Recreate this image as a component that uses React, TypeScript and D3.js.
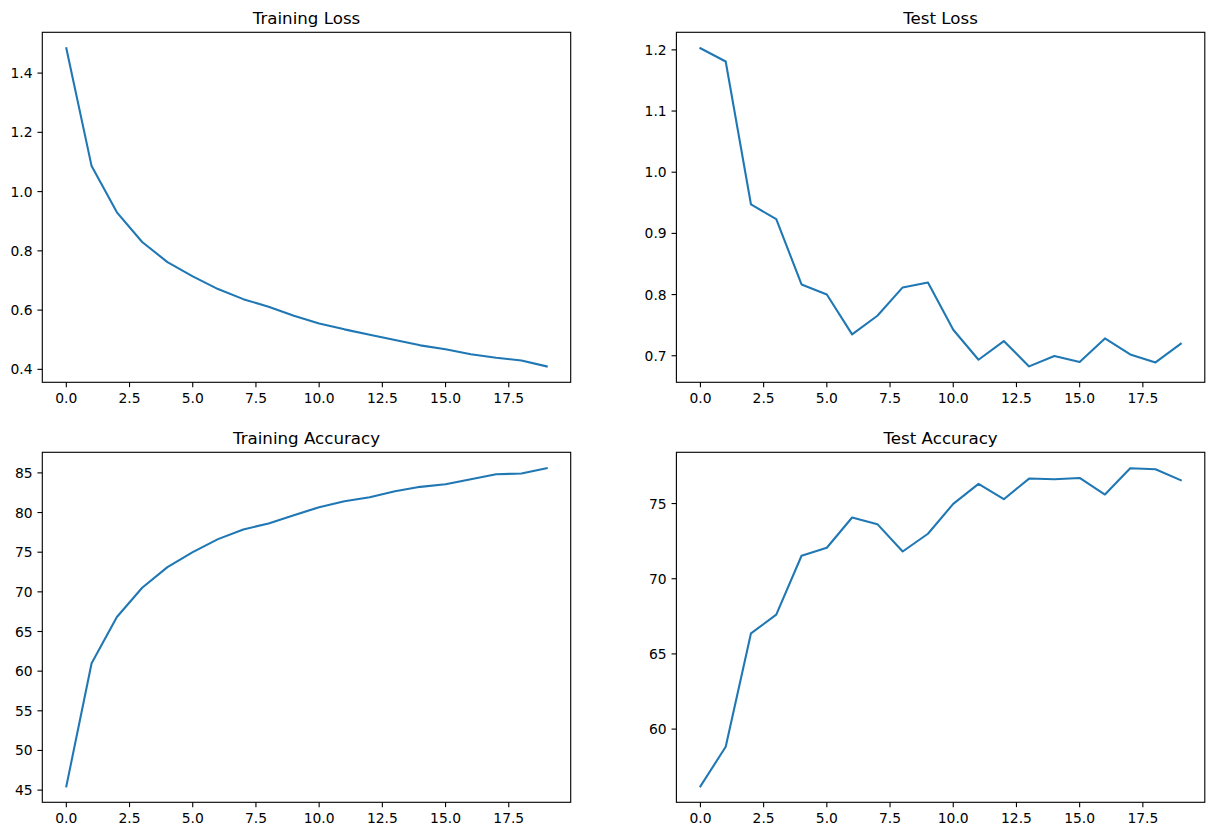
import React from "react";
import * as d3 from "d3";

const epochs = d3.range(20);

const trainLoss = [1.484, 1.086, 0.93, 0.83, 0.762, 0.714, 0.671, 0.637, 0.611, 0.581, 0.555, 0.535, 0.517, 0.499, 0.481, 0.468, 0.451, 0.439, 0.43, 0.41];
const testLoss = [1.2027, 1.181, 0.9473, 0.9233, 0.8166, 0.8002, 0.7349, 0.7654, 0.8117, 0.8198, 0.7425, 0.6935, 0.724, 0.6826, 0.6995, 0.6897, 0.7283, 0.7022, 0.6891, 0.7196];
const trainAcc = [45.47, 61.0, 66.83, 70.52, 73.12, 75.01, 76.65, 77.87, 78.62, 79.67, 80.68, 81.43, 81.94, 82.69, 83.24, 83.57, 84.2, 84.83, 84.92, 85.59];
const testAcc = [56.19, 58.83, 66.37, 67.61, 71.53, 72.06, 74.07, 73.63, 71.81, 72.99, 74.98, 76.31, 75.29, 76.66, 76.62, 76.7, 75.6, 77.35, 77.28, 76.55];

const xTicks = [0, 2.5, 5, 7.5, 10, 12.5, 15, 17.5];
const yTicksTrainLoss = [0.4, 0.6, 0.8, 1.0, 1.2, 1.4];
const yTicksTestLoss = [0.7, 0.8, 0.9, 1.0, 1.1, 1.2];
const yTicksTrainAcc = [45, 50, 55, 60, 65, 70, 75, 80, 85];
const yTicksTestAcc = [60, 65, 70, 75];

const titles = ["Training Loss", "Test Loss", "Training Accuracy", "Test Accuracy"];

const W = 528.4;
const H = 350;
const COLS = [42.3, 676.4];
const ROWS = [32.3, 452.3];
const FONT = "DejaVu Sans, sans-serif";

function pad(vals: number[]): [number, number] {
  const [lo, hi] = d3.extent(vals) as [number, number];
  const m = (hi - lo) * 0.05;
  return [lo - m, hi + m];
}

function Panel({ x0, y0, title, values, yTicks, yFmt }: { x0: number; y0: number; title: string; values: number[]; yTicks: number[]; yFmt: (v: number) => string }) {
  const xs = d3.scaleLinear().domain(pad(epochs)).range([0, W]);
  const ys = d3.scaleLinear().domain(pad(values)).range([H, 0]);
  const line = d3.line<number>().x((_, i) => xs(epochs[i])).y((d) => ys(d));
  return (
    <g transform={`translate(${x0},${y0})`}>
      <text x={W / 2} y={-8.3} textAnchor="middle" fontSize={16.67} fontFamily={FONT} fill="#000">{title}</text>
      <path d={line(values) || ""} fill="none" stroke="#1f77b4" strokeWidth={2.08} strokeLinejoin="round" strokeLinecap="square" />
      {xTicks.map((t) => (
        <g key={t} transform={`translate(${xs(t)},${H})`}>
          <line y1={0} y2={4.86} stroke="#000" strokeWidth={1.11} />
          <text y={21} textAnchor="middle" fontSize={13.89} fontFamily={FONT} fill="#000">{t.toFixed(1)}</text>
        </g>
      ))}
      {yTicks.map((t) => (
        <g key={t} transform={`translate(0,${ys(t)})`}>
          <line x1={0} x2={-4.86} stroke="#000" strokeWidth={1.11} />
          <text x={-9.72} dy="0.36em" textAnchor="end" fontSize={13.89} fontFamily={FONT} fill="#000">{yFmt(t)}</text>
        </g>
      ))}
      <rect x={0} y={0} width={W} height={H} fill="none" stroke="#000" strokeWidth={1.11} />
    </g>
  );
}

export default function App() {
  const f1 = (v: number) => v.toFixed(1);
  const f0 = (v: number) => v.toFixed(0);
  return (
    <svg width={1214} height={836} style={{ position: "absolute", left: 0, top: 0, background: "#fff" }}>
      <rect width={1214} height={836} fill="#fff" />
      <Panel x0={COLS[0]} y0={ROWS[0]} title={titles[0]} values={trainLoss} yTicks={yTicksTrainLoss} yFmt={f1} />
      <Panel x0={COLS[1]} y0={ROWS[0]} title={titles[1]} values={testLoss} yTicks={yTicksTestLoss} yFmt={f1} />
      <Panel x0={COLS[0]} y0={ROWS[1]} title={titles[2]} values={trainAcc} yTicks={yTicksTrainAcc} yFmt={f0} />
      <Panel x0={COLS[1]} y0={ROWS[1]} title={titles[3]} values={testAcc} yTicks={yTicksTestAcc} yFmt={f0} />
    </svg>
  );
}
